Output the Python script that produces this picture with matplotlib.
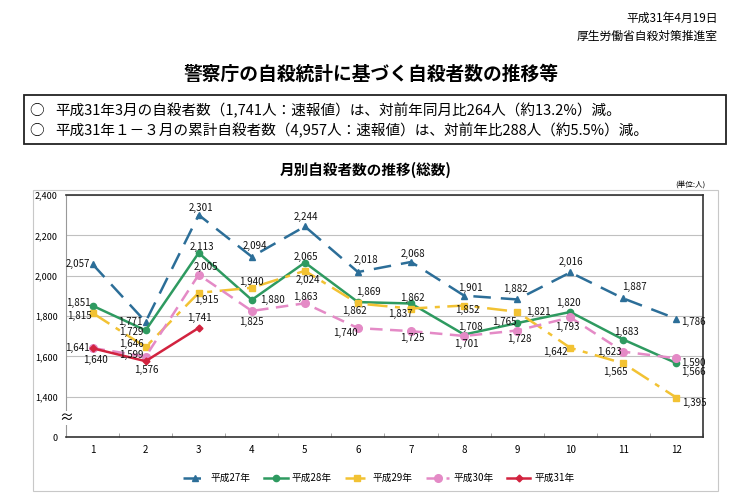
import numpy as np
import matplotlib.pyplot as plt
from matplotlib.patches import Rectangle
from matplotlib.transforms import blended_transform_factory

plt.rcParams['font.family'] = ['Noto Sans CJK JP', 'DejaVu Sans']

# データ（月別自殺者数）
months = list(range(1, 13))
h27 = [2057, 1771, 2301, 2094, 2244, 2018, 2068, 1901, 1882, 2016, 1887, 1786]
h28 = [1851, 1729, 2113, 1880, 2065, 1869, 1862, 1708, 1765, 1820, 1683, 1566]
h29 = [1815, 1646, 1915, 1940, 2024, 1862, 1837, 1852, 1821, 1642, 1565, 1395]
h30 = [1641, 1599, 2005, 1825, 1863, 1740, 1725, 1701, 1728, 1793, 1623, 1590]
h31 = [1640, 1576, 1741]
names = ['平成27年', '平成28年', '平成29年', '平成30年', '平成31年']
yticks = [1200, 1400, 1600, 1800, 2000, 2200, 2400]
ytick_labels = ['0', '1,400', '1,600', '1,800', '2,000', '2,200', '2,400']

# ラベル位置 (dx, dy, ha) 単位: pixel
off27 = [(-3, 0, 'right'), (-3, 0, 'right'), (2, 7, 'center'), (3, 11, 'center'),
         (1, 9, 'center'), (8, 12, 'center'), (2, 8, 'center'), (6, 8, 'center'),
         (-2, 10, 'center'), (1, 10, 'center'), (11, 11, 'center'), (5, -3, 'left')]
off28 = [(-2, 3, 'right'), (-2, -2, 'right'), (3, 6, 'center'), (8, 0, 'left'),
         (1, 6, 'center'), (10, 10, 'center'), (1, 6, 'center'), (6, 8, 'center'),
         (-1, 1, 'right'), (-2, 9, 'center'), (3, 8, 'center'), (5, -9, 'left')]
off29 = [(-1, -3, 'right'), (-2, 3, 'right'), (8, -7, 'center'), (0, 6, 'center'),
         (3, -9, 'center'), (-4, -7, 'center'), (-11, -5, 'center'), (3, -4, 'center'),
         (9, 0, 'left'), (-3, -4, 'right'), (-8, -9, 'center'), (6, -5, 'left')]
off30 = [(-3, 0, 'right'), (-2, 2, 'right'), (7, 8, 'center'), (0, -11, 'center'),
         (1, 6, 'center'), (-13, -5, 'center'), (1, -7, 'center'), (2, -8, 'center'),
         (2, -8, 'center'), (-3, -10, 'center'), (-2, 0, 'right'), (5, -5, 'left')]
off31 = [(3, -12, 'center'), (1, -9, 'center'), (1, 10, 'center')]

fig = plt.figure(figsize=(7.44, 4.98), dpi=100)
W, H = 744, 498

def fx(x):
    return x / W

def fy(y):
    return 1 - y / H

# ヘッダー
fig.text(fx(718), fy(18), '平成31年4月19日', ha='right', va='center', fontsize=8.5)
fig.text(fx(718), fy(36), '厚生労働省自殺対策推進室', ha='right', va='center', fontsize=8.5)
fig.text(fx(371), fy(74), '警察庁の自殺統計に基づく自殺者数の推移等', ha='center', va='center',
         fontsize=13.5, fontweight='bold')

fig.patches.append(Rectangle((fx(24), fy(144)), fx(726) - fx(24), fy(95) - fy(144),
                             transform=fig.transFigure, fill=False, ec='#222222', lw=1.3))
fig.text(fx(29), fy(111), '○', ha='left', va='center', fontsize=10.5)
fig.text(fx(29), fy(131), '○', ha='left', va='center', fontsize=10.5)
fig.text(fx(55), fy(111), '平成31年3月の自殺者数（1,741人：速報値）は、対前年同月比264人（約13.2%）減。',
         ha='left', va='center', fontsize=10.5)
fig.text(fx(55), fy(131), '平成31年１－３月の累計自殺者数（4,957人：速報値）は、対前年比288人（約5.5%）減。',
         ha='left', va='center', fontsize=10.5)

fig.text(fx(366), fy(170), '月別自殺者数の推移(総数)', ha='center', va='center',
         fontsize=10.5, fontweight='bold')
fig.text(fx(705), fy(185), '(単位:人)', ha='right', va='center', fontsize=5.5)

# 外枠
fig.patches.append(Rectangle((fx(33), fy(491)), fx(718) - fx(33), fy(190) - fy(491),
                             transform=fig.transFigure, fill=False, ec='#c8c8c8', lw=0.8))

ax = fig.add_axes([fx(66), fy(437), fx(703) - fx(66), fy(195) - fy(437)])
ax.set_xlim(0.5, 12.5)
ax.set_ylim(1200, 2400)
ax.set_yticks(yticks)
ax.set_yticklabels(ytick_labels, fontsize=6.5)
ax.set_xticks(months)
ax.set_xticklabels([str(m) for m in months], fontsize=7)
ax.set_xticks(np.arange(0.5, 13, 1), minor=True)
ax.tick_params(axis='both', which='major', length=0, pad=6)
ax.tick_params(axis='x', which='minor', length=3, direction='in', color='#999999')
ax.grid(axis='y', color='#c0c0c0', lw=0.8)
ax.set_axisbelow(True)
for s in ['top', 'right', 'bottom']:
    ax.spines[s].set_color('#333333')
    ax.spines[s].set_linewidth(1.2)
ax.spines['left'].set_color('#999999')

series = [
    (h27, off27, '#2C6E98', (0, (7, 4)), '^', 5),
    (h28, off28, '#2E9A60', '-', 'o', 4.5),
    (h29, off29, '#F2C233', (0, (8, 3, 2, 3)), 's', 5),
    (h30, off30, '#E48AC6', (0, (5, 3)), 'o', 5.5),
    (h31, off31, '#D2233F', '-', 'D', 3.5),
]

for (vals, offs, col, ls, mk, ms), name in zip(series, names):
    xs = months[:len(vals)]
    ax.plot(xs, vals, color=col, ls=ls, lw=1.8, marker=mk, ms=ms,
            markeredgecolor=col, label=name, zorder=3)
    for x, v, (dx, dy, ha) in zip(xs, vals, offs):
        ax.annotate(f'{v:,}', (x, v), xytext=(dx, dy), textcoords='offset pixels',
                    ha=ha, va='center', fontsize=7, color='#111111', zorder=5)

# 省略記号
tr = blended_transform_factory(ax.transAxes, ax.transData)
ax.text(0, 1294, '≈', transform=tr, ha='center', va='center', fontsize=10,
        bbox=dict(fc='white', ec='none', pad=0.3), zorder=6, clip_on=False)

leg = fig.legend(loc='center', bbox_to_anchor=(fx(379), fy(478)), ncol=5, frameon=False,
                 fontsize=7, handlelength=2.4, columnspacing=1.4, handletextpad=0.4)

fig.savefig('out.png', dpi=100)
